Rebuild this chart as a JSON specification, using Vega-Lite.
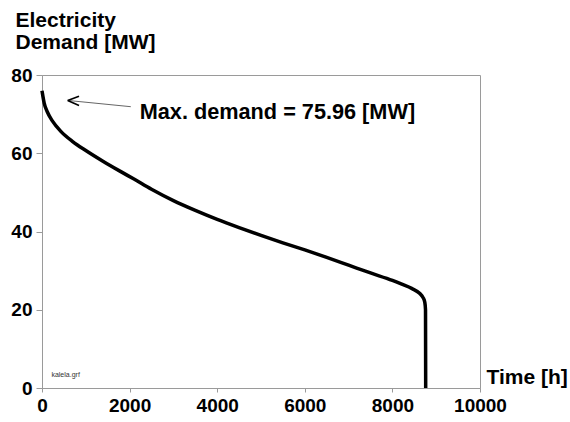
{
  "$schema": "https://vega.github.io/schema/vega-lite/v6.json",
  "width": 438,
  "height": 313,
  "autosize": {"type": "none"},
  "padding": {"left": 42, "top": 75, "right": 90, "bottom": 34},
  "background": "white",
  "config": {
    "font": "Liberation Sans",
    "view": {"stroke": "#9a9a9a", "strokeWidth": 1},
    "axis": {
      "grid": false,
      "domainColor": "#9a9a9a",
      "tickColor": "#9a9a9a",
      "labelColor": "black",
      "labelFont": "Liberation Sans",
      "labelFontWeight": "bold",
      "labelFontSize": 19,
      "titleFont": "Liberation Sans",
      "titleFontWeight": "bold",
      "titleFontSize": 21,
      "titleColor": "black"
    }
  },
  "layer": [
    {
      "data": {
        "values": [
          {"h": 0, "mw": 75.96},
          {"h": 20, "mw": 74.6},
          {"h": 50, "mw": 72.8},
          {"h": 120, "mw": 70.6},
          {"h": 240, "mw": 68.2},
          {"h": 430, "mw": 65.6},
          {"h": 700, "mw": 63.0},
          {"h": 1000, "mw": 60.7},
          {"h": 1400, "mw": 57.9},
          {"h": 1800, "mw": 55.3},
          {"h": 2100, "mw": 53.4},
          {"h": 2500, "mw": 50.8},
          {"h": 3000, "mw": 47.9},
          {"h": 3500, "mw": 45.4},
          {"h": 4000, "mw": 43.1},
          {"h": 4500, "mw": 41.0},
          {"h": 5000, "mw": 39.0},
          {"h": 5500, "mw": 37.1},
          {"h": 6000, "mw": 35.3},
          {"h": 6500, "mw": 33.4},
          {"h": 7000, "mw": 31.4},
          {"h": 7500, "mw": 29.4},
          {"h": 8000, "mw": 27.5},
          {"h": 8200, "mw": 26.6},
          {"h": 8450, "mw": 25.4},
          {"h": 8620, "mw": 24.2},
          {"h": 8700, "mw": 23.1},
          {"h": 8740, "mw": 21.9},
          {"h": 8756, "mw": 20.0},
          {"h": 8760, "mw": 0}
        ]
      },
      "mark": {"type": "line", "color": "black", "strokeWidth": 3.5, "strokeJoin": "round", "strokeCap": "butt", "interpolate": "monotone"},
      "encoding": {
        "x": {
          "field": "h", "type": "quantitative",
          "scale": {"domain": [0, 10000], "nice": false, "zero": true},
          "axis": {
            "values": [0, 2000, 4000, 6000, 8000, 10000],
            "format": "d",
            "tickSize": 4, "labelPadding": 4, "labelFlush": false,
            "title": "Time [h]",
            "titleAngle": 0, "titleAlign": "left", "titleBaseline": "alphabetic",
            "titleX": 444, "titleY": -5
          }
        },
        "y": {
          "field": "mw", "type": "quantitative",
          "scale": {"domain": [0, 80], "nice": false},
          "axis": {
            "values": [0, 20, 40, 60, 80],
            "format": "d",
            "tickSize": 6, "labelPadding": 4, "labelFlush": false,
            "title": ["Electricity", "Demand [MW]"],
            "titleAngle": 0, "titleAlign": "left", "titleBaseline": "alphabetic",
            "titleLineHeight": 22,
            "titleX": -27, "titleY": -49
          }
        }
      }
    },
    {
      "data": {
        "values": [
          {"h": 587, "mw": 73.5, "h2": 2027, "mw2": 71.9, "part": "shaft"}
        ]
      },
      "mark": {"type": "rule", "color": "#666666", "strokeWidth": 1},
      "encoding": {
        "x": {"field": "h", "type": "quantitative"},
        "y": {"field": "mw", "type": "quantitative"},
        "x2": {"field": "h2"},
        "y2": {"field": "mw2"}
      }
    },
    {
      "data": {
        "values": [
          {"h": 587, "mw": 73.5, "h2": 845, "mw2": 74.6, "part": "barb1"},
          {"h": 587, "mw": 73.5, "h2": 845, "mw2": 72.2, "part": "barb2"}
        ]
      },
      "mark": {"type": "rule", "color": "black", "strokeWidth": 1.6},
      "encoding": {
        "x": {"field": "h", "type": "quantitative"},
        "y": {"field": "mw", "type": "quantitative"},
        "x2": {"field": "h2"},
        "y2": {"field": "mw2"}
      }
    },
    {
      "data": {"values": [{"h": 2231, "mw": 68.7, "label": "Max. demand = 75.96 [MW]"}]},
      "mark": {"type": "text", "align": "left", "baseline": "alphabetic", "fontSize": 21.7, "fontWeight": "bold", "font": "Liberation Sans", "color": "black"},
      "encoding": {
        "x": {"field": "h", "type": "quantitative"},
        "y": {"field": "mw", "type": "quantitative"},
        "text": {"field": "label"}
      }
    },
    {
      "data": {"values": [{"h": 215, "mw": 3.2, "label": "kalela.grf"}]},
      "mark": {"type": "text", "align": "left", "baseline": "middle", "fontSize": 7, "font": "Liberation Sans", "color": "#333333"},
      "encoding": {
        "x": {"field": "h", "type": "quantitative"},
        "y": {"field": "mw", "type": "quantitative"},
        "text": {"field": "label"}
      }
    }
  ]
}
